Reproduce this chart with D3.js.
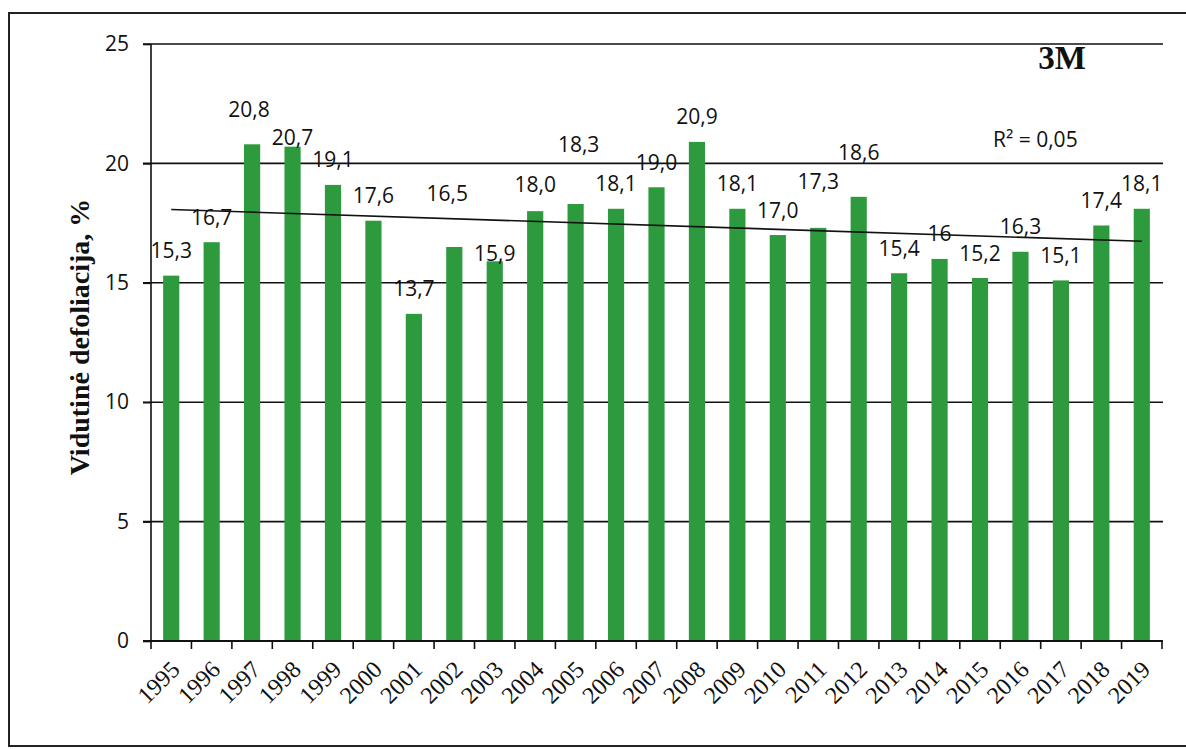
<!DOCTYPE html>
<html>
<head>
<meta charset="utf-8">
<script src="https://cdn.jsdelivr.net/npm/d3@7"></script>
<style>
  html, body { margin: 0; padding: 0; background: #fff; }
  svg { display: block; }
</style>
</head>
<body>
<svg id="chart" width="1186" height="749"></svg>
<script>
// ---- data ----
const years = ["1995","1996","1997","1998","1999","2000","2001","2002","2003","2004","2005","2006","2007","2008","2009","2010","2011","2012","2013","2014","2015","2016","2017","2018","2019"];
const defoliation = [15.3,16.7,20.8,20.7,19.1,17.6,13.7,16.5,15.9,18.0,18.3,18.1,19.0,20.9,18.1,17.0,17.3,18.6,15.4,16,15.2,16.3,15.1,17.4,18.1];
const valueLabels = ["15,3","16,7","20,8","20,7","19,1","17,6","13,7","16,5","15,9","18,0","18,3","18,1","19,0","20,9","18,1","17,0","17,3","18,6","15,4","16","15,2","16,3","15,1","17,4","18,1"];
const yTicks = [0,5,10,15,20,25];
const yTitle = "Vidutinė defoliacija, %";
const panelTitle = "3M";
const r2Text = "R² = 0,05";

// label nudges (layout only, px): manual label placement as in the original
const labelNudge = [[0,0],[0,0],[-3,-10],[0,16],[0,0],[0,0],[0,0],[-7,-28],[0,17],[0,-2],[3,-34],[0,0],[0,0],[0,0],[0,0],[0,0],[0,-21],[0,-19],[0,0],[0,0],[0,0],[0,0],[0,0],[0,0],[0,0]];

const svg = d3.select("#chart");
const sans = "'Open Sans', 'Liberation Sans', sans-serif";
const serif = "'Liberation Serif', 'DejaVu Serif', serif";

// outer frame
svg.append("rect").attr("x", 9).attr("y", 13).attr("width", 1200).attr("height", 733)
  .attr("fill", "none").attr("stroke", "#222").attr("stroke-width", 2);

const x0 = 151, x1 = 1162, yBottom = 641, yTop = 44;
const x = d3.scaleBand().domain(years).range([x0, x1]).padding(0);
const y = d3.scaleLinear().domain([0, 25]).range([yBottom, yTop]);
const step = x.step();
const barW = step * 0.4;

// gridlines
svg.append("g").selectAll("line").data(yTicks.filter(t => t > 0)).join("line")
  .attr("x1", x0 - 8).attr("x2", x1 + 1)
  .attr("y1", d => y(d)).attr("y2", d => y(d))
  .attr("stroke", "#111").attr("stroke-width", 1.6);

// bars
svg.append("g").selectAll("rect").data(defoliation).join("rect")
  .attr("x", (d, i) => x(years[i]) + (step - barW) / 2)
  .attr("width", barW)
  .attr("y", d => y(d))
  .attr("height", d => y(0) - y(d))
  .attr("fill", "#2e9a3e");

// y axis
const yAxis = svg.append("g").attr("transform", `translate(${x0},0)`)
  .call(d3.axisLeft(y).tickValues(yTicks).tickSize(8).tickPadding(14).tickFormat(d3.format("d")));
yAxis.select(".domain").attr("stroke", "#111").attr("stroke-width", 1.6).attr("d", `M-0,${yBottom}V${yTop}`);
yAxis.selectAll(".tick line").attr("stroke", "#111").attr("stroke-width", 1.6);
yAxis.selectAll(".tick text").attr("font-family", sans).attr("font-size", 21).attr("fill", "#111");

// x axis
const xAxis = svg.append("g").attr("transform", `translate(0,${yBottom})`);
xAxis.append("line").attr("x1", x0 - 8).attr("x2", x1 + 1).attr("y1", 0).attr("y2", 0)
  .attr("stroke", "#111").attr("stroke-width", 1.8);
const boundaries = years.map(yr => x(yr)).concat([x(years[years.length - 1]) + step]);
xAxis.selectAll("line.tk").data(boundaries).join("line").attr("class", "tk")
  .attr("x1", d => d).attr("x2", d => d).attr("y1", 0).attr("y2", 8)
  .attr("stroke", "#111").attr("stroke-width", 1.6);
xAxis.selectAll("text").data(years).join("text")
  .attr("transform", d => `translate(${x(d) + step / 2 + 10},30) rotate(-45)`)
  .attr("text-anchor", "end")
  .attr("font-family", serif).attr("font-size", 24).attr("fill", "#111")
  .text(d => d);

// linear trend (least squares over the series)
const idx = defoliation.map((d, i) => i);
const mx = d3.mean(idx), my = d3.mean(defoliation);
const slope = d3.sum(idx, i => (i - mx) * (defoliation[i] - my)) / d3.sum(idx, i => (i - mx) ** 2);
const intercept = my - slope * mx;
const trendLine = d3.line()
  .x(i => x(years[i]) + step / 2)
  .y(i => y(intercept + slope * i));
svg.append("path").datum([0, years.length - 1]).attr("d", trendLine)
  .attr("fill", "none").attr("stroke", "#111").attr("stroke-width", 1.6);

// data labels
svg.append("g").selectAll("text").data(defoliation).join("text")
  .attr("x", (d, i) => x(years[i]) + step / 2 + labelNudge[i][0])
  .attr("y", (d, i) => y(d) - 25 + 7.5 + labelNudge[i][1])
  .attr("text-anchor", "middle")
  .attr("font-family", sans).attr("font-size", 21).attr("fill", "#111")
  .text((d, i) => valueLabels[i]);

// R² text
svg.append("text").attr("x", 993).attr("y", 147)
  .attr("font-family", sans).attr("font-size", 21).attr("fill", "#111").text(r2Text);

// panel title
svg.append("text").attr("x", 1062).attr("y", 69).attr("text-anchor", "middle")
  .attr("font-family", serif).attr("font-weight", "bold").attr("font-size", 33).attr("fill", "#111")
  .text(panelTitle);

// y-axis title
svg.append("text").attr("transform", "translate(89,337) rotate(-90)")
  .attr("text-anchor", "middle")
  .attr("font-family", serif).attr("font-weight", "bold").attr("font-size", 28).attr("fill", "#111")
  .text(yTitle);
</script>
</body>
</html>
